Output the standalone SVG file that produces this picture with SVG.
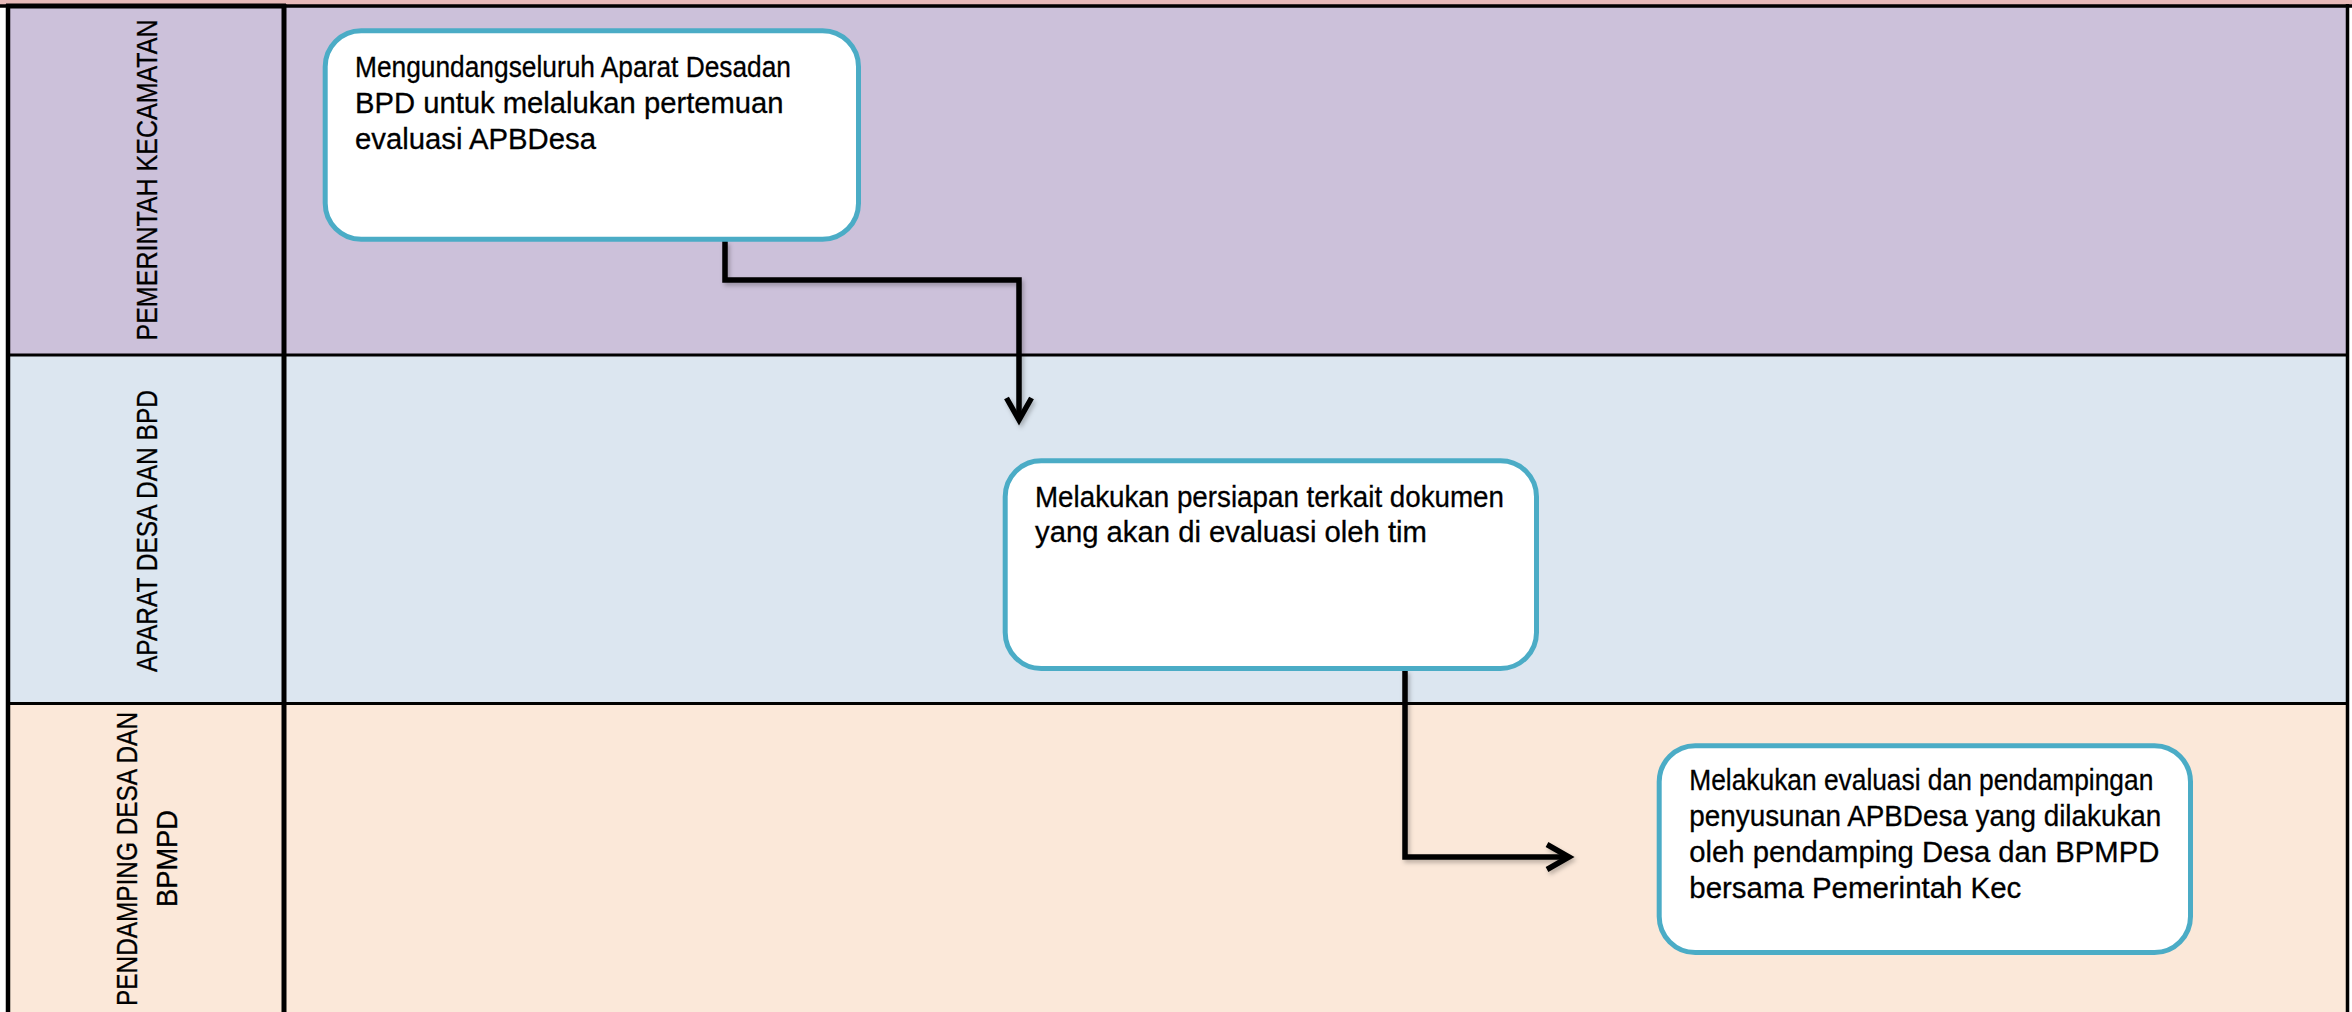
<svg xmlns="http://www.w3.org/2000/svg" width="2352" height="1012" viewBox="0 0 2352 1012">
  <style>
    .lbl { font-family: "Liberation Sans", Arial, sans-serif; font-size: 30px; fill: #000; stroke: #000; stroke-width: 0.3; }
    .txt { font-family: "Liberation Sans", Arial, sans-serif; font-size: 29px; fill: #000; stroke: #000; stroke-width: 0.3; }
    .box { fill: #ffffff; stroke: #4BACC6; stroke-width: 5; }
    .conn { fill: none; stroke: #000; stroke-width: 5.5; stroke-linejoin: miter; }
    .grid { stroke: #000; fill: none; }
  </style>
  <defs>
    <filter id="sh" x="-10%" y="-10%" width="120%" height="120%">
      <feDropShadow dx="2" dy="3" stdDeviation="2" flood-color="#000" flood-opacity="0.25"/>
    </filter>
  </defs>

  <!-- backgrounds -->
  <rect x="0" y="0" width="2352" height="1012" fill="#ffffff"/>
  <rect x="0" y="0" width="2352" height="6" fill="#E6B9B8"/>
  <rect x="8" y="6" width="2340" height="349" fill="#CCC1DA"/>
  <rect x="8" y="355" width="2340" height="349" fill="#DCE6F0"/>
  <rect x="8" y="704" width="2340" height="308" fill="#FBE8D9"/>

  <!-- grid lines -->
  <g id="grid" class="grid">
    <line x1="0" y1="6" x2="2352" y2="6" stroke-width="3.5"/>
    <line x1="6" y1="6" x2="286" y2="6" stroke-width="5"/>
    <line x1="8" y1="355" x2="2348" y2="355" stroke-width="3"/>
    <line x1="8" y1="703.5" x2="2348" y2="703.5" stroke-width="3"/>
    <line x1="8" y1="4" x2="8" y2="1012" stroke-width="4.5"/>
    <line x1="284" y1="4" x2="284" y2="1012" stroke-width="5"/>
    <line x1="2347.5" y1="4" x2="2347.5" y2="1012" stroke-width="3.5"/>
  </g>

  <!-- lane labels -->
  <g id="lane-pemerintah-kecamatan">
    <text class="lbl" transform="translate(156.5,180) rotate(-90)" text-anchor="middle" textLength="321" lengthAdjust="spacingAndGlyphs">PEMERINTAH KECAMATAN</text>
  </g>
  <g id="lane-aparat-desa">
    <text class="lbl" transform="translate(156.5,531) rotate(-90)" text-anchor="middle" textLength="282" lengthAdjust="spacingAndGlyphs">APARAT DESA DAN BPD</text>
  </g>
  <g id="lane-pendamping">
    <text class="lbl" transform="translate(136.5,859) rotate(-90)" text-anchor="middle" textLength="294" lengthAdjust="spacingAndGlyphs">PENDAMPING DESA DAN</text>
    <text class="lbl" transform="translate(176.5,858.5) rotate(-90)" text-anchor="middle" textLength="97" lengthAdjust="spacingAndGlyphs">BPMPD</text>
  </g>

  <!-- connectors -->
  <g id="connectors" filter="url(#sh)">
    <path class="conn" d="M 725 241 V 280 H 1019 V 418"/>
    <path class="conn" d="M 1006.5 398 L 1019 420 L 1031.5 398"/>
    <path class="conn" d="M 1405 670 V 857 H 1567"/>
    <path class="conn" d="M 1547 844.5 L 1569 857 L 1547 869.5"/>
  </g>

  <!-- nodes -->
  <g id="node-1">
    <rect class="box" x="325.2" y="30.8" width="533.3" height="208.4" rx="36" ry="36"/>
    <text class="txt" x="355" y="77.3" textLength="436" lengthAdjust="spacingAndGlyphs">Mengundangseluruh Aparat Desadan</text>
    <text class="txt" x="355" y="113.3" textLength="428.6" lengthAdjust="spacingAndGlyphs">BPD untuk melalukan pertemuan</text>
    <text class="txt" x="355" y="149.3" textLength="241" lengthAdjust="spacingAndGlyphs">evaluasi APBDesa</text>
  </g>
  <g id="node-2">
    <rect class="box" x="1005.2" y="460.8" width="531.3" height="207.7" rx="36" ry="36"/>
    <text class="txt" x="1035" y="506.7" textLength="469" lengthAdjust="spacingAndGlyphs">Melakukan persiapan terkait dokumen</text>
    <text class="txt" x="1035" y="541.7" textLength="392" lengthAdjust="spacingAndGlyphs">yang akan di evaluasi oleh tim</text>
  </g>
  <g id="node-3">
    <rect class="box" x="1659.2" y="745.8" width="531.3" height="206.7" rx="36" ry="36"/>
    <text class="txt" x="1689.3" y="790" textLength="464" lengthAdjust="spacingAndGlyphs">Melakukan evaluasi dan pendampingan</text>
    <text class="txt" x="1689.3" y="826" textLength="472" lengthAdjust="spacingAndGlyphs">penyusunan APBDesa yang dilakukan</text>
    <text class="txt" x="1689.3" y="862" textLength="470" lengthAdjust="spacingAndGlyphs">oleh pendamping Desa dan BPMPD</text>
    <text class="txt" x="1689.3" y="898" textLength="332" lengthAdjust="spacingAndGlyphs">bersama Pemerintah Kec</text>
  </g>
</svg>
